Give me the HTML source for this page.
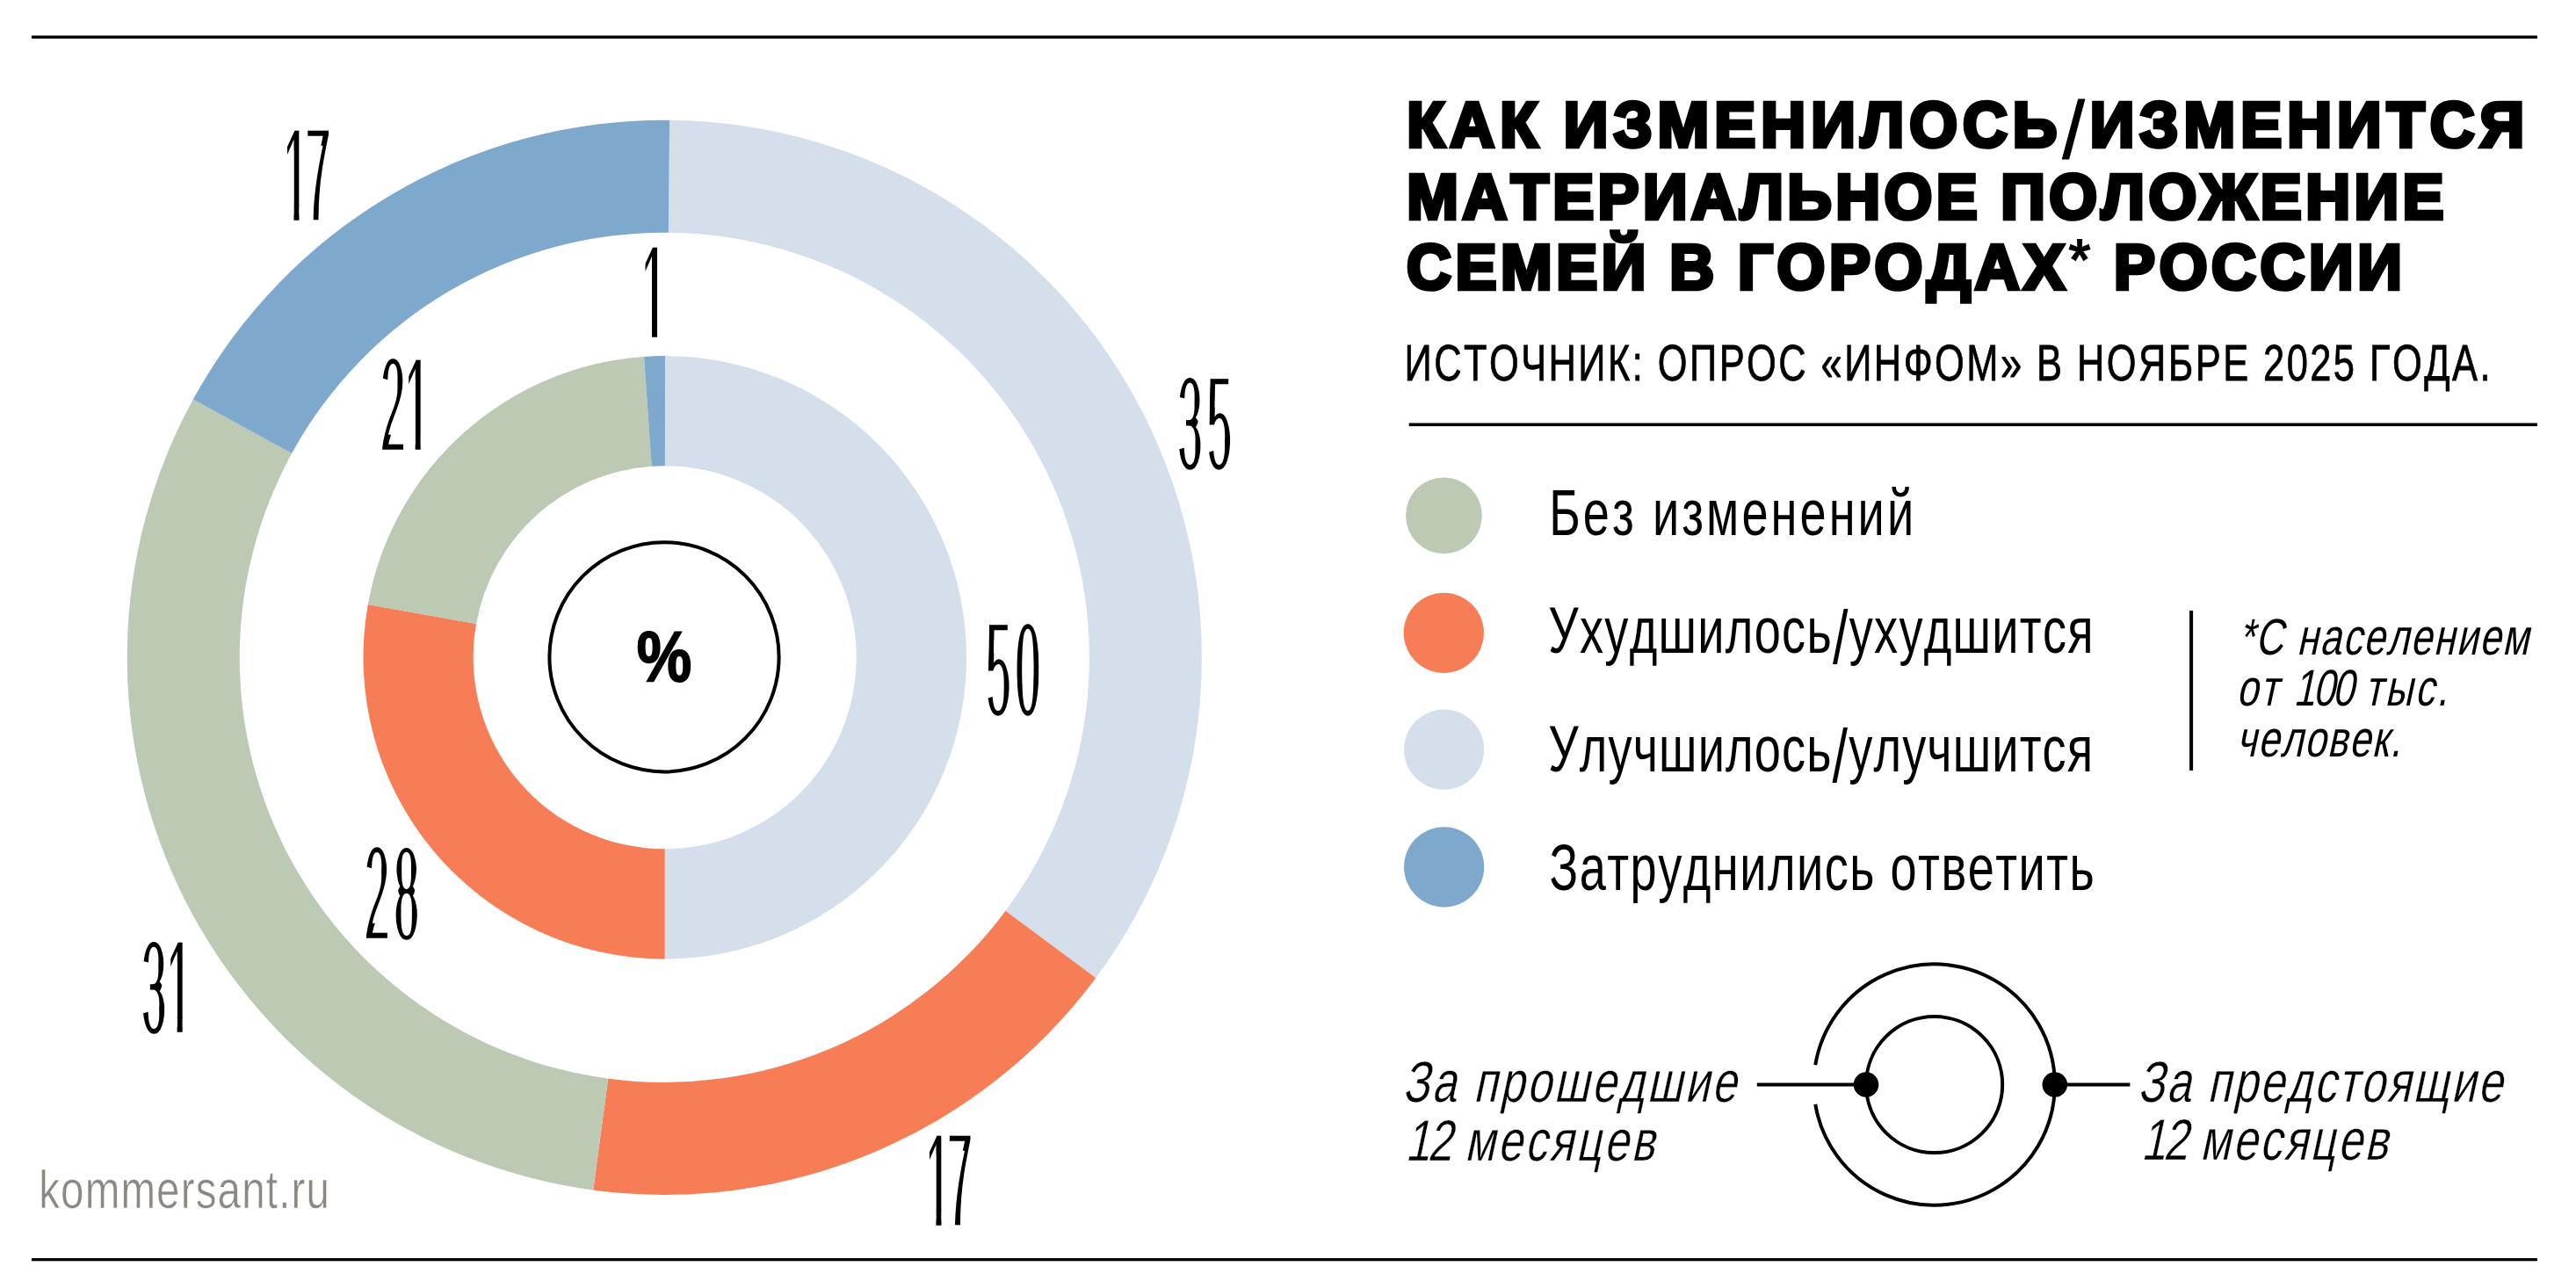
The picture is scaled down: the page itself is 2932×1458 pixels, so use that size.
<!DOCTYPE html>
<html lang="ru"><head><meta charset="utf-8"><title>Как изменилось/изменится материальное положение семей в городах России</title>
<style>
html,body{margin:0;padding:0;background:#fff}
svg{display:block}
text{font-family:'Liberation Sans', sans-serif;white-space:pre;font-kerning:none}
</style></head>
<body>
<svg width="2932" height="1458" viewBox="0 0 2932 1458">
<rect width="2932" height="1458" fill="#fff"/>
<g id="chart">
<path d="M762.06 136.73A611.6 611.6 0 0 1 1247.30 1112.95L1144.54 1036.63A483.6 483.6 0 0 0 760.86 264.72Z" fill="#d5dfec"/>
<path d="M1247.30 1112.95A611.6 611.6 0 0 1 675.20 1354.50L692.17 1227.63A483.6 483.6 0 0 0 1144.54 1036.63Z" fill="#f67d55"/>
<path d="M675.20 1354.50A611.6 611.6 0 0 1 219.84 454.60L332.11 516.06A483.6 483.6 0 0 0 692.17 1227.63Z" fill="#bccab4"/>
<path d="M219.84 454.60A611.6 611.6 0 0 1 762.06 136.73L760.86 264.72A483.6 483.6 0 0 0 332.11 516.06Z" fill="#7ea8cc"/>
<path d="M757.00 405.10A343.2 343.2 0 0 1 756.70 1091.50L756.70 966.30A218.0 218.0 0 0 0 756.89 530.30Z" fill="#d5dfec"/>
<path d="M756.70 1091.50A343.2 343.2 0 0 1 418.82 688.11L542.08 710.07A218.0 218.0 0 0 0 756.70 966.30Z" fill="#f67d55"/>
<path d="M418.82 688.11A343.2 343.2 0 0 1 733.06 405.92L741.68 530.82A218.0 218.0 0 0 0 542.08 710.07Z" fill="#bccab4"/>
<path d="M733.06 405.92A343.2 343.2 0 0 1 757.00 405.10L756.89 530.30A218.0 218.0 0 0 0 741.68 530.82Z" fill="#7ea8cc"/>
<circle cx="756" cy="747.8" r="130.6" fill="none" stroke="#000" stroke-width="4"/>
</g>
<g id="shapes">
<rect x="35.9" y="40.5" width="2852" height="3.4" fill="#000"/>
<rect x="35.9" y="1432" width="2852" height="3.3" fill="#000"/>
<rect x="1603.7" y="481.5" width="1284.2" height="3.6" fill="#000"/>
<rect x="2492.1" y="695" width="4" height="182" fill="#000"/>
<circle cx="1643.4" cy="586.8" r="43.4" fill="#bccab4"/>
<circle cx="1643.3" cy="720.3" r="45.6" fill="#f67d55"/>
<circle cx="1643.6" cy="853.1" r="45.6" fill="#d5dfec"/>
<circle cx="1643.6" cy="986.8" r="45.6" fill="#7ea8cc"/>
<path d="M2066.24 1212.09A137.2 137.2 0 1 1 2066.24 1256.91" fill="none" stroke="#000" stroke-width="4"/>
<circle cx="2201.6" cy="1234.5" r="77.6" fill="none" stroke="#000" stroke-width="4"/>
<rect x="1999.8" y="1232.5" width="124.2" height="4" fill="#000"/>
<rect x="2338.8" y="1232.5" width="85.6" height="4" fill="#000"/>
<circle cx="2124.0" cy="1234.5" r="14.3" fill="#000"/>
<circle cx="2338.8" cy="1234.5" r="14.3" fill="#000"/>
</g>
<g id="texts">
<text transform="translate(1601.32 166.60) scale(0.9850 1)" font-size="71.5" font-weight="bold" fill="#000" stroke="#000" stroke-width="4.6" stroke-linejoin="miter" letter-spacing="6.116" word-spacing="-2">КАК ИЗМЕНИЛОСЬ<tspan font-weight="normal" font-size="92" stroke-width="1.2" dy="13">/</tspan><tspan dy="-13">ИЗМЕНИТСЯ</tspan></text>
<text transform="translate(1601.32 248.60) scale(0.9850 1)" font-size="71.5" font-weight="bold" fill="#000" stroke="#000" stroke-width="4.6" stroke-linejoin="miter" letter-spacing="4.519" word-spacing="-2">МАТЕРИАЛЬНОЕ ПОЛОЖЕНИЕ</text>
<text transform="translate(1600.95 329.30) scale(0.9850 1)" font-size="71.5" font-weight="bold" fill="#000" stroke="#000" stroke-width="4.6" stroke-linejoin="miter" letter-spacing="4.688" word-spacing="-2">СЕМЕЙ В ГОРОДАХ<tspan font-weight="normal" font-size="64" stroke-width="2" dy="-11">*</tspan><tspan dy="11"> РОССИИ</tspan></text>
<text transform="translate(1598.48 433.40) scale(0.7450 1)" font-size="58.3" font-weight="normal" fill="#000" stroke="#000" stroke-width="0.8" stroke-linejoin="miter" letter-spacing="3.287">ИСТОЧНИК: ОПРОС «ИНФОМ» В НОЯБРЕ 2025 ГОДА.</text>
<text transform="translate(1763.23 608.60) scale(0.7400 1)" font-size="73.2" font-weight="normal" fill="#000" letter-spacing="4.114">Без изменений</text>
<text transform="translate(1762.30 743.20) scale(0.7400 1)" font-size="73.2" font-weight="normal" fill="#000" letter-spacing="1.724">Ухудшилось<tspan font-size="85" dy="12">/</tspan><tspan dy="-12">ухудшится</tspan></text>
<text transform="translate(1762.30 877.90) scale(0.7400 1)" font-size="73.2" font-weight="normal" fill="#000" letter-spacing="1.527">Улучшилось<tspan font-size="85" dy="12">/</tspan><tspan dy="-12">улучшится</tspan></text>
<text transform="translate(1763.55 1013.00) scale(0.7400 1)" font-size="73.2" font-weight="normal" fill="#000" letter-spacing="1.996">Затруднились ответить</text>
<text transform="translate(2547.88 745.00) skewX(-12) scale(0.7500 1)" font-size="58.4" font-weight="normal" fill="#000" letter-spacing="2.387">*С населением</text>
<text transform="translate(2545.50 803.10) skewX(-12) scale(0.7500 1)" font-size="58.4" font-weight="normal" fill="#000" letter-spacing="3.651">от <tspan letter-spacing="-3">100</tspan> тыс.</text>
<text transform="translate(2545.31 861.00) skewX(-12) scale(0.7500 1)" font-size="58.4" font-weight="normal" fill="#000" letter-spacing="2.066">человек.</text>
<text transform="translate(1596.13 1253.80) skewX(-12) scale(0.7600 1)" font-size="66" font-weight="normal" fill="#000" stroke="#fff" stroke-width="0.4" stroke-linejoin="miter" letter-spacing="3.739">За прошедшие</text>
<text transform="translate(1599.33 1320.90) skewX(-12) scale(0.7600 1)" font-size="66" font-weight="normal" fill="#000" stroke="#fff" stroke-width="0.4" stroke-linejoin="miter" letter-spacing="4.010"><tspan letter-spacing="-3.5">12</tspan> месяцев</text>
<text transform="translate(2432.99 1253.80) skewX(-12) scale(0.7600 1)" font-size="66" font-weight="normal" fill="#000" stroke="#fff" stroke-width="0.4" stroke-linejoin="miter" letter-spacing="3.059">За предстоящие</text>
<text transform="translate(2436.76 1320.10) skewX(-12) scale(0.7600 1)" font-size="66" font-weight="normal" fill="#000" stroke="#fff" stroke-width="0.4" stroke-linejoin="miter" letter-spacing="3.498"><tspan letter-spacing="-3.5">12</tspan> месяцев</text>
<text transform="translate(44.13 1374.90) scale(0.7800 1)" font-size="60.9" font-weight="normal" fill="#8c8783" stroke="#fff" stroke-width="0.6" stroke-linejoin="miter" letter-spacing="1.503">kommersant.ru</text>
<text transform="translate(724.87 775.20) scale(0.8623 1)" font-size="81.5" font-weight="bold" fill="#000" stroke="#000" stroke-width="1.8" stroke-linejoin="miter">%</text>
</g>
<defs>
<mask id="thin" maskUnits="userSpaceOnUse" x="0" y="0" width="1500" height="1458">
<g transform="translate(0 11.05)" font-size="156.0" fill="#fff" stroke="#fff" stroke-width="5.4" stroke-linejoin="miter">
<text transform="translate(322.92 248.10) scale(0.315 1)" letter-spacing="-5.91">17</text>
<text transform="translate(730.52 381.20) scale(0.315 1)">1</text>
<text transform="translate(433.38 508.70) scale(0.315 1)" letter-spacing="1.40">21</text>
<text transform="translate(1340.68 530.00) scale(0.315 1)" letter-spacing="19.60">35</text>
<text transform="translate(1122.78 810.30) scale(0.315 1)" letter-spacing="19.77">50</text>
<text transform="translate(415.28 1065.40) scale(0.315 1)" letter-spacing="20.47">28</text>
<text transform="translate(161.58 1172.20) scale(0.315 1)" letter-spacing="3.94">31</text>
<text transform="translate(1053.92 1391.60) scale(0.315 1)" letter-spacing="-7.18">17</text>
</g>
<g fill="#000">
<rect x="322.67" y="234.80" width="11.76" height="22"/>
<rect x="340.47" y="234.80" width="11.38" height="22"/>
<rect x="730.27" y="367.90" width="11.76" height="22"/>
<rect x="748.07" y="367.90" width="11.38" height="22"/>
<rect x="460.89" y="495.40" width="11.76" height="22"/>
<rect x="478.70" y="495.40" width="11.38" height="22"/>
<rect x="189.89" y="1158.90" width="11.76" height="22"/>
<rect x="207.70" y="1158.90" width="11.38" height="22"/>
<rect x="1053.67" y="1378.30" width="11.76" height="22"/>
<rect x="1071.47" y="1378.30" width="11.38" height="22"/>
</g>
</mask>
</defs>
<g id="values" mask="url(#thin)" font-size="156.0" fill="#000" stroke="#000" stroke-width="5.4" stroke-linejoin="miter">
<text transform="translate(322.92 248.10) scale(0.315 1)" letter-spacing="-5.91">17</text>
<text transform="translate(730.52 381.20) scale(0.315 1)">1</text>
<text transform="translate(433.38 508.70) scale(0.315 1)" letter-spacing="1.40">21</text>
<text transform="translate(1340.68 530.00) scale(0.315 1)" letter-spacing="19.60">35</text>
<text transform="translate(1122.78 810.30) scale(0.315 1)" letter-spacing="19.77">50</text>
<text transform="translate(415.28 1065.40) scale(0.315 1)" letter-spacing="20.47">28</text>
<text transform="translate(161.58 1172.20) scale(0.315 1)" letter-spacing="3.94">31</text>
<text transform="translate(1053.92 1391.60) scale(0.315 1)" letter-spacing="-7.18">17</text>
</g>
</svg>
</body></html>
